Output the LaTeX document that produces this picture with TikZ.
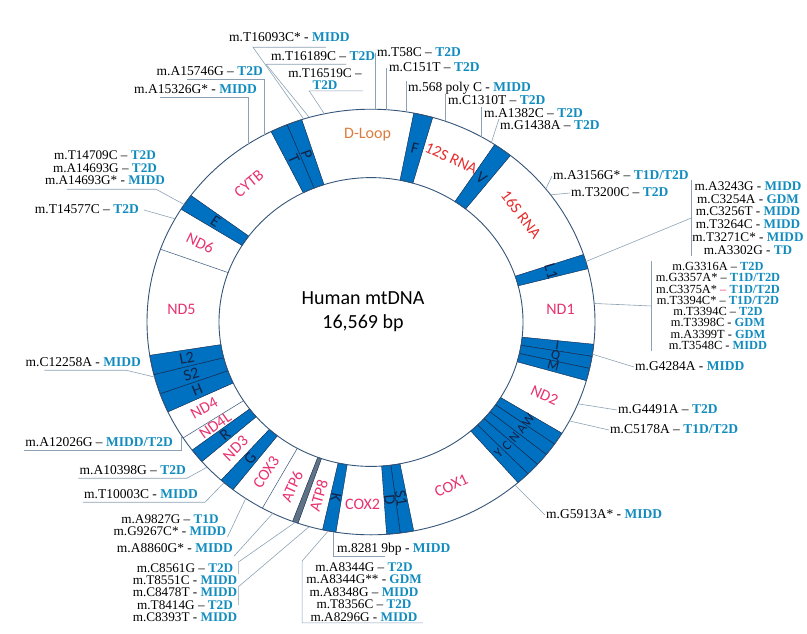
\documentclass[tikz,border=0pt]{standalone}
\usepackage{fontspec}
\setmainfont{Liberation Serif}
\newfontfamily\calibri{Carlito}
\definecolor{ringc}{RGB}{52,84,120}
\definecolor{blkc}{RGB}{0,112,192}
\definecolor{navy}{RGB}{20,35,70}
\definecolor{genec}{RGB}{232,50,110}
\definecolor{rnac}{RGB}{230,45,45}
\definecolor{loopc}{RGB}{222,122,60}
\definecolor{leadc}{RGB}{140,162,180}
\definecolor{disc}{RGB}{18,140,190}
\definecolor{barc}{RGB}{95,115,135}
\newcommand{\dis}[1]{\textcolor{disc}{\textbf{#1}}}

\begin{document}
\begin{tikzpicture}[x=1pt,y=-1pt,
	grp/.style={font=\fontsize{13.2}{12.6}\selectfont, inner sep=1pt, align=center},
	mut/.style={grp, font=\fontsize{13.5}{12.6}\selectfont, text height=9.5pt, text depth=2.5pt},
	lead/.style={draw=leadc, line width=0.6pt},
	blk/.style={fill=blkc, draw=navy, line width=0.4pt},
	lett/.style={text=navy, font=\calibri\fontsize{16}{16}\selectfont, inner sep=0pt},
	thin/.style={lett, font=\calibri\fontsize{13.5}{13.5}\selectfont},
	gene/.style={font=\calibri\fontsize{16}{16}\selectfont, inner sep=0pt}]
	\useasboundingbox (0,0) rectangle (807,633);
	\begin{scope}[shift={(371,322)}, yscale=-0.95]
		\foreach \a/\b in {108/112,112/116.5,74/79,51.5/56.5,14.5/18.5,-9.3/-6,-12.6/-9.3,-16/-12.6,-35/-31.5,-38.5/-35,-42/-38.5,-45.5/-42,-49/-45.5,-82.5/-79,-86/-82.5,-102.5/-99,-132/-128,-143/-139,-160.3/-155,-165.7/-160.3,-171/-165.7,143.5/148}
			\filldraw[blk] (\a:152) arc[start angle=\a, end angle=\b, radius=152] -- (\b:224) arc[start angle=\b, end angle=\a, radius=224] -- cycle;
		\filldraw[blk, fill=barc] (-110.5:152) arc[start angle=-110.5, end angle=-109, radius=152] -- (-109:224) arc[start angle=-109, end angle=-110.5, radius=224] -- cycle;
		\foreach \a in {-119,-147,160}
			\draw[ringc, line width=0.5pt] (\a:152) -- (\a:224);
		\draw[ringc, line width=0.9pt] (0,0) circle[radius=224] (0,0) circle[radius=152];
		\foreach \n/\a in {16093/107.5,16189/106,16519/102,58/89,151/86,568/81,1310/70.5,1382/60.5,1438/57.5,15746/118.5,15326/123.3,14709/146.5,14577/151,12258/-165,12026/-147.7,10398/-137,10003/-131,9827/-124,8860/-116,8561/-109.75,8478/-106,8281/-99.7,8344/-101,3156/38.7,3200/36.7,3243/16.5,3316/5,4284/-8.7,4491/-22.6,5178/-27.7,5913/-50}
			\coordinate (p\n) at (\a:224);
		\foreach \t/\a/\r in {T/114.25/-66,P/110/-70,F/76.5/-13.5,V/54/-36,L1/16.5/-73.5,S1/-80.75/-80.75,D/-84.25/-84.25,K/-100.75/-100.75,G/-130/50,R/-141/39,H/-157.6/22.4,S2/-163/17,L2/-168.4/11.6,E/145.75/-34}
			\node[lett, rotate=\r] (b\t) at (\a:188) {\t};
		\foreach \t/\a/\r in {I/-7.6/-7.6,Q/-11/-11,M/-14.3/-14.3,W/-33.25/56.75,A/-36.75/53.25,N/-40.25/49.75,C/-43.75/46.25,Y/-47.25/42.75}
			\node[thin, rotate=\r] (b\t) at (\a:188) {\t};
		\foreach \n/\a/\d/\r/\t/\c in {loop/91/197/0/D-Loop/loopc,r12/65/190/-25/12S RNA/rnac,r16/37/188/-53/16S RNA/rnac,nd1/4/190/0/ND1/genec,nd2/-24/190/-24/ND2/genec,cox1/-65/190/25/COX1/genec,cox2/-92.5/192/0/COX2/genec,atp8/-106/190/74/ATP8/genec,atp6/-114.5/190/65.5/ATP6/genec,cox3/-123.5/190/56.5/COX3/genec,nd3/-135.5/190/44.5/ND3/genec,nd4l/-145/190/35/ND4L/genec,nd4/-151.5/190/28.5/ND4/genec,nd5/176/190/0/ND5/genec,nd6/154/190/-26/ND6/genec,cytb/130/190/40/CYTB/genec}
			\node[gene, text=\c, rotate=\r] (g\n) at (\a:\d) {\t};
	\end{scope}
	\node[font=\calibri\fontsize{20}{24}\selectfont, align=center] (title) at (363,312) {Human mtDNA\\16,569 bp};

	\node[mut, anchor=west] (t16093) at (228,38) {m.T16093C* - \dis{MIDD}};
	\node[mut, anchor=west] (t16189) at (270,57) {m.T16189C – \dis{T2D}};
	\node[grp] (t16519) at (325,79) {m.T16519C –\\\dis{T2D}};
	\node[mut, anchor=west] (t58) at (376,53) {m.T58C – \dis{T2D}};
	\node[mut, anchor=west] (t151) at (388,68) {m.C151T – \dis{T2D}};
	\node[mut, anchor=west] (t568) at (407,88) {m.568 poly C - \dis{MIDD}};
	\node[mut, anchor=west] (t1310) at (447,101) {m.C1310T – \dis{T2D}};
	\node[mut, anchor=west] (t1382) at (483,114) {m.A1382C – \dis{T2D}};
	\node[mut, anchor=west] (t1438) at (499,126) {m.G1438A – \dis{T2D}};
	\node[mut, anchor=east] (t15746) at (264,72) {m.A15746G – \dis{T2D}};
	\node[mut, anchor=east] (t15326) at (258,90) {m.A15326G* - \dis{MIDD}};
	\node[grp] (t14709) at (105,168) {m.T14709C – \dis{T2D}\\m.A14693G – \dis{T2D}\\m.A14693G* - \dis{MIDD}};
	\node[mut, anchor=east] (t14577) at (140,210) {m.T14577C – \dis{T2D}};
	\node[mut, anchor=east] (t12258) at (142,363) {m.C12258A - \dis{MIDD}};
	\node[mut, anchor=east] (t12026) at (174,443) {m.A12026G – \dis{MIDD/T2D}};
	\node[mut, anchor=east] (t10398) at (187,471) {m.A10398G – \dis{T2D}};
	\node[mut, anchor=east] (t10003) at (199,495) {m.T10003C - \dis{MIDD}};
	\node[grp] (t9827) at (170,525) {m.A9827G – \dis{T1D}\\m.G9267C* - \dis{MIDD}};
	\node[mut, anchor=east] (t8860) at (234,549) {m.A8860G* - \dis{MIDD}};
	\node[grp] (t8561) at (185,574) {m.C8561G – \dis{T2D}\\m.T8551C - \dis{MIDD}};
	\node[grp] (t8478) at (185,605) {m.C8478T - \dis{MIDD}\\m.T8414G – \dis{T2D}\\m.C8393T - \dis{MIDD}};
	\node[mut, anchor=west] (t8281) at (336,549) {m.8281 9bp - \dis{MIDD}};
	\node[grp] (t8344) at (364,592) {m.A8344G – \dis{T2D}\\m.A8344G** - \dis{GDM}\\m.A8348G – \dis{MIDD}\\m.T8356C – \dis{T2D}\\m.A8296G - \dis{MIDD}};
	\node[mut, anchor=west] (t3156) at (552,176) {m.A3156G* – \dis{T1D/T2D}};
	\node[mut, anchor=west] (t3200) at (570,193) {m.T3200C – \dis{T2D}};
	\node[grp, font=\fontsize{13.2}{12.8}\selectfont] (t3243) at (748,218) {m.A3243G - \dis{MIDD}\\m.C3254A - \dis{GDM}\\m.C3256T - \dis{MIDD}\\m.T3264C - \dis{MIDD}\\m.T3271C* - \dis{MIDD}\\m.A3302G - \dis{TD}};
	\node[grp, font=\fontsize{12.4}{11.3}\selectfont] (t3316) at (718,306) {m.G3316A – \dis{T2D}\\m.G3357A* – \dis{T1D/T2D}\\m.C3375A* {\color{genec}–} \dis{T1D/T2D}\\m.T3394C* – \dis{T1D/T2D}\\m.T3394C – \dis{T2D}\\m.T3398C - \dis{GDM}\\m.A3399T - \dis{GDM}\\m.T3548C - \dis{MIDD}};
	\node[mut, anchor=west] (t4284) at (634,367) {m.G4284A - \dis{MIDD}};
	\node[mut, anchor=west] (t4491) at (617,410) {m.G4491A – \dis{T2D}};
	\node[mut, anchor=west] (t5178) at (609,430) {m.C5178A – \dis{T1D/T2D}};
	\node[mut, anchor=west] (t5913) at (545,515) {m.G5913A* - \dis{MIDD}};

	\draw[lead] (p16093) -- ([xshift=25pt,yshift=-2pt]t16093.south west) -- ([xshift=-25pt,yshift=-2pt]t16093.south east);
	\draw[lead] (p16189) -- ([xshift=-4pt]t16189.south west) -- ([xshift=-30pt]t16189.south east);
	\draw[lead] (p16519) -- ([xshift=22pt]t16519.south west) -- (t16519.south east);
	\draw[lead] (p58) -- (p58 |- t58.west);
	\draw[lead] (p151) -- (p151 |- t151.west);
	\draw[lead] (p568) -- (p568 |- t568.north);
	\draw[lead] (p1310) -- (p1310 |- t1310.north);
	\draw[lead] (p1382) -- (p1382 |- t1382.north);
	\draw[lead] (p1438) -- (t1438.north west);
	\draw[lead] (p15746) -- (p15746 |- t15746.south) -- ([xshift=32pt]t15746.south west);
	\draw[lead] (p15326) -- (p15326 |- t15326.south) -- ([xshift=27pt]t15326.south west);
	\draw[lead] (p14709) -- ([xshift=-10pt,yshift=-3pt]t14709.south east) -- ([xshift=23pt,yshift=-3pt]t14709.south west);
	\draw[lead] (p14577) -- ([xshift=4pt]t14577.east);
	\draw[lead] (p12258) -- ([xshift=-16pt]t12258.south east) -- ([xshift=20pt]t12258.south west);
	\draw[lead] (p12026) |- (t12026.south west);
	\draw[lead] (p10398) -- (t10398.south east) -- (t10398.south west);
	\draw[lead] (p10003) -- ([xshift=6pt]t10003.south east) -- (t10003.south west);
	\draw[lead] (p9827) -- (t9827.south east);
	\draw[lead] (p8860) -- (t8860.south east);
	\draw[lead] (p8561) -- (t8561.north east) -- (t8561.east);
	\draw[lead] (p8478) -- (t8478.north east) -- (t8478.east);
	\draw[lead] (p8281) |- ([xshift=-67pt]t8281.south east);
	\draw[lead] (p8344) -- ([xshift=-3pt]t8344.north west) -- ([xshift=-3pt]t8344.south west) -- (t8344.south east);
	\draw[lead] (p3156) -- (t3156.west);
	\draw[lead] (p3200) -- (t3200.west);
	\draw[lead] (t3243.north west) -- (t3243.south west);
	\draw[lead] (p3243) -- (t3243.west);
	\draw[lead] ([xshift=-3pt]t3316.north west) -- ([xshift=-3pt]t3316.south west);
	\draw[lead] (p3316) -- ([xshift=-3pt]t3316.west);
	\draw[lead] (p4284) -- (t4284.west);
	\draw[lead] (p4491) -- (t4491.west);
	\draw[lead] (p5178) -- (t5178.west);
	\draw[lead] (p5913) -- (t5913.west);
\end{tikzpicture}
\end{document}
